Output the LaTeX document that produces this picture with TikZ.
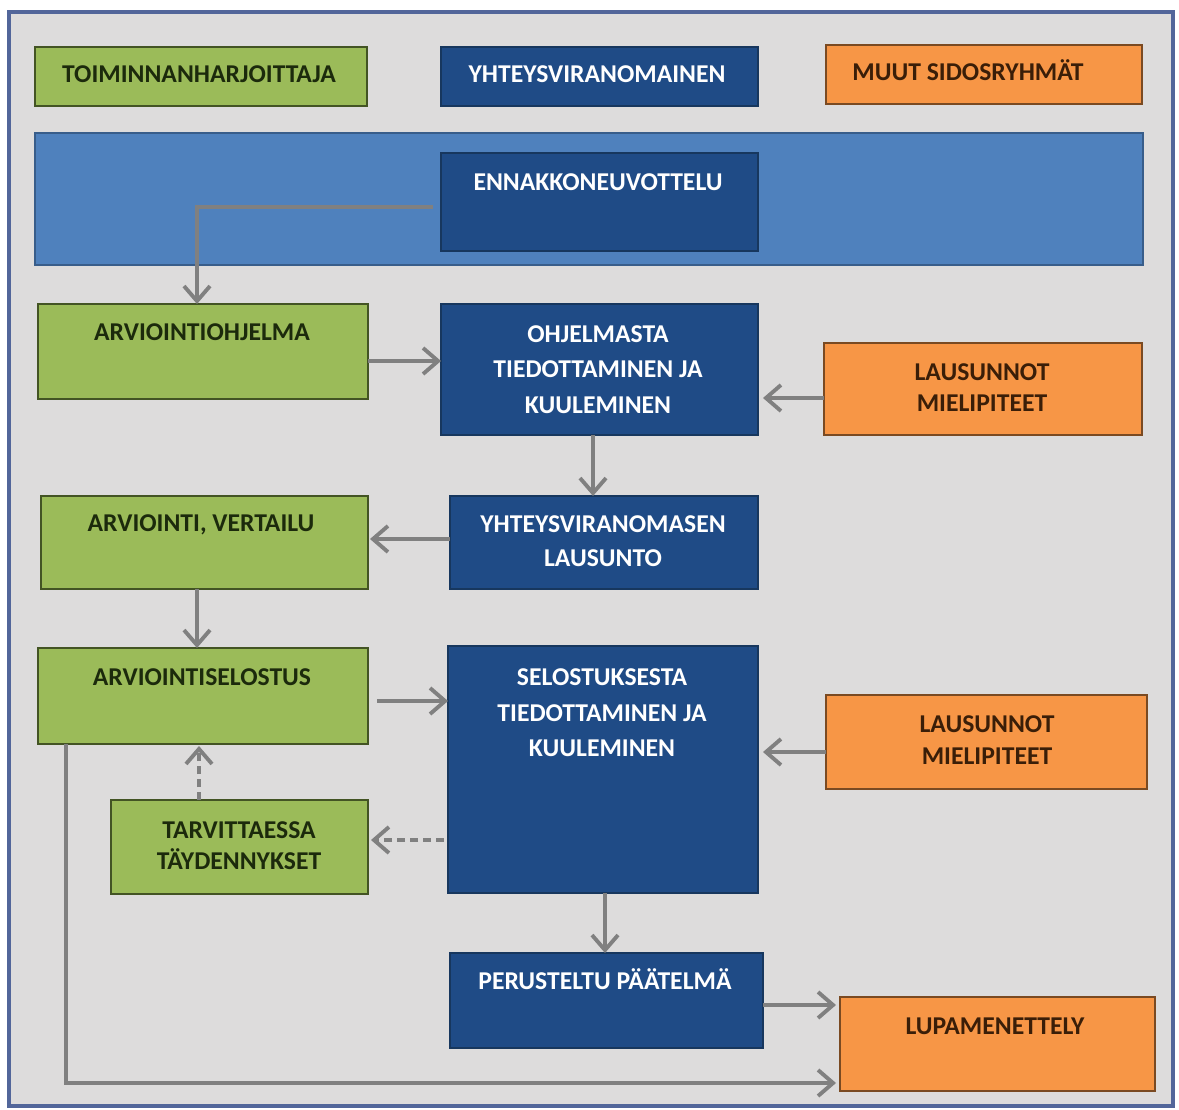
\documentclass[tikz,border=0pt]{standalone}
\usepackage{fontspec}
\setmainfont{Carlito}
\usetikzlibrary{arrows.meta,fit}

\definecolor{pagebg}{HTML}{DDDCDC}
\definecolor{framec}{HTML}{52669A}
\definecolor{greenf}{HTML}{9BBB59}
\definecolor{greend}{HTML}{435424}
\definecolor{bluef}{HTML}{1F4B86}
\definecolor{blued}{HTML}{17375E}
\definecolor{bandf}{HTML}{4F81BD}
\definecolor{bandd}{HTML}{385D8A}
\definecolor{orangef}{HTML}{F79646}
\definecolor{oranged}{HTML}{7A4A22}
\definecolor{arrowc}{HTML}{808080}
\definecolor{gtextc}{HTML}{1C2A0C}
\definecolor{otextc}{HTML}{3A1E08}

\tikzset{
  box/.style={inner sep=0pt, outer sep=0pt, line width=1.2pt},
  gbox/.style={box, fill=greenf, draw=greend},
  bbox/.style={box, fill=bluef, draw=blued},
  obox/.style={box, fill=orangef, draw=oranged},
  band/.style={box, fill=bandf, draw=bandd},
  txt/.style={inner sep=0pt, align=center, font=\bfseries\fontsize{14.6pt}{20.2pt}\selectfont},
  one/.style={text height=9.4pt, text depth=0pt},
  gtxt/.style={txt, text=gtextc},
  btxt/.style={txt, text=white},
  otxt/.style={txt, text=otextc},
  tight/.style={font=\bfseries\fontsize{14.6pt}{17.8pt}\selectfont},
  arr/.style={draw=arrowc, line width=2.2pt,
    -{Straight Barb[length=0.3cm, width=0.52cm, line width=2.2pt]}},
  darr/.style={arr, dash pattern=on 0.16cm off 0.1cm},
}

\begin{document}
\begin{tikzpicture}[x=0.02cm, y=-0.02cm]
  % page and frame
  \useasboundingbox (0,0) rectangle (1179,1109);
  \fill[white] (0,0) rectangle (1179,1109);
  \draw[framec, fill=pagebg, line width=1.8pt] (9,12) rectangle (1173,1106);

  % header row
  \node[gbox, fit={(35,47) (367,106)}] (toim) {};
  \node[bbox, fit={(441,47) (758,106)}] (yht) {};
  \node[obox, fit={(826,45) (1142,104)}] (muut) {};
  \node[gtxt, one] (toim-t) at (199,74) {TOIMINNANHARJOITTAJA};
  \node[btxt, one] (yht-t) at (597,74) {YHTEYSVIRANOMAINEN};
  \node[otxt, one] (muut-t) at (968,72) {MUUT SIDOSRYHMÄT};

  % preliminary consultation band
  \node[band, fit={(35,133) (1143,265)}] (band) {};
  \node[bbox, fit={(441,153) (758,251)}] (enn) {};
  \node[btxt, one] (enn-t) at (598,182) {ENNAKKONEUVOTTELU};

  % programme stage
  \node[gbox, fit={(38,304) (368,399)}] (arvoh) {};
  \node[bbox, fit={(441,304) (758,435)}] (ohj) {};
  \node[obox, fit={(824,343) (1142,435)}] (laus1) {};
  \node[gtxt, one] (arvoh-t) at (202,332) {ARVIOINTIOHJELMA};
  \node[btxt] (ohj-t) at (598,369.5) {OHJELMASTA\\TIEDOTTAMINEN JA\\KUULEMINEN};
  \node[otxt, tight] (laus1-t) at (982,387.5) {LAUSUNNOT\\MIELIPITEET};

  % statement and assessment
  \node[gbox, fit={(41,496) (368,589)}] (arvver) {};
  \node[bbox, fit={(450,496) (758,589)}] (ylaus) {};
  \node[gtxt, one] (arvver-t) at (201,523) {ARVIOINTI, VERTAILU};
  \node[btxt, font=\bfseries\fontsize{14.6pt}{19.3pt}\selectfont] (ylaus-t) at (603,541) {YHTEYSVIRANOMASEN\\LAUSUNTO};

  % report stage
  \node[gbox, fit={(38,648) (368,744)}] (arvsel) {};
  \node[bbox, fit={(448,646) (758,893)}] (sel) {};
  \node[obox, fit={(826,695) (1147,789)}] (laus2) {};
  \node[gbox, fit={(111,800) (368,894)}] (tarv) {};
  \node[gtxt, one] (arvsel-t) at (202,677) {ARVIOINTISELOSTUS};
  \node[btxt] (sel-t) at (602,713) {SELOSTUKSESTA\\TIEDOTTAMINEN JA\\KUULEMINEN};
  \node[otxt, tight] (laus2-t) at (987,740) {LAUSUNNOT\\MIELIPITEET};
  \node[gtxt, tight] (tarv-t) at (239,846) {TARVITTAESSA\\TÄYDENNYKSET};

  % conclusion and permit
  \node[bbox, fit={(450,953) (763,1048)}] (per) {};
  \node[obox, fit={(840,997) (1155,1091)}] (lupa) {};
  \node[btxt, one] (per-t) at (605,981) {PERUSTELTU PÄÄTELMÄ};
  \node[otxt, one] (lupa-t) at (995,1026) {LUPAMENETTELY};

  % connectors
  \draw[arr, shorten <=0.16cm] ([yshift=-0.1cm]enn.west) -| ([xshift=-0.12cm]arvoh.north);
  \draw[arr] ([yshift=-0.19cm]arvoh.east) -- ([yshift=-0.19cm]arvoh.east -| ohj.west);
  \draw[arr] ([xshift=-0.13cm]ohj.south) -- ([xshift=-0.13cm]ohj.south |- ylaus.north);
  \draw[arr, shorten >=0.1cm] ([yshift=-0.18cm]laus1.west) -- ([yshift=-0.18cm]laus1.west -| ohj.east);
  \draw[arr, shorten >=0.04cm] ([yshift=0.07cm]ylaus.west) -- ([yshift=0.07cm]ylaus.west -| arvver.east);
  \draw[arr] ([xshift=-0.15cm]arvver.south) -- ([xshift=-0.15cm]arvver.south |- arvsel.north);
  \draw[arr, shorten <=0.18cm] ([yshift=-0.1cm]arvsel.east) -- ([yshift=-0.1cm]arvsel.east -| sel.west);
  \draw[arr, shorten >=0.1cm] ([yshift=-0.2cm]laus2.west) -- ([yshift=-0.2cm]laus2.west -| sel.east);
  \draw[darr, shorten >=0.04cm] ([xshift=-0.08cm]arvsel.south |- tarv.north) -- ([xshift=-0.08cm]arvsel.south);
  \draw[darr, shorten <=0.08cm, shorten >=0.06cm] ([yshift=0.14cm]tarv.east -| sel.west) -- ([yshift=0.14cm]tarv.east);
  \draw[arr] ([xshift=0.04cm]sel.south) -- ([xshift=0.04cm]sel.south |- per.north);
  \draw[arr, shorten >=0.08cm] ([yshift=-0.09cm]per.east) -- ([yshift=-0.09cm]per.east -| lupa.west);
  \draw[arr, shorten >=0.08cm] ([xshift=0.56cm]arvsel.south west) |- ([yshift=-0.78cm]lupa.west);
\end{tikzpicture}
\end{document}
